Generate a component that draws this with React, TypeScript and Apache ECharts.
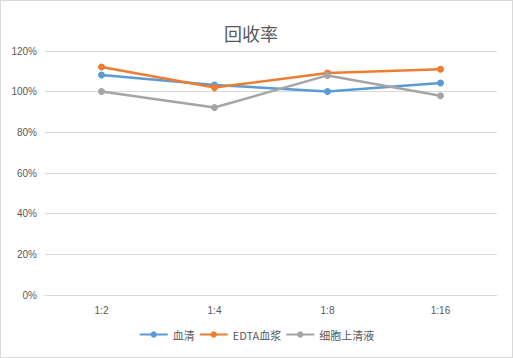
import React, { useEffect, useRef } from "react";
import * as echarts from "echarts";

const categories = ["1:2", "1:4", "1:8", "1:16"];
const seriesNames = ["血清", "EDTA血浆", "细胞上清液"];
const serum = [108.2, 103.3, 100.1, 104.3];
const edta = [112.1, 102.0, 109.2, 111.0];
const supernatant = [100.1, 92.2, 108.0, 98.0];
const colors = ["#5b9bd5", "#ed7d31", "#a5a5a5"];
const titleText = "回收率";

export default function App() {
  const ref = useRef<HTMLDivElement>(null);
  useEffect(() => {
    const chart = echarts.init(ref.current!, null, { renderer: "svg" });
    const mk = (name: string, data: number[], color: string) => ({
      name,
      type: "line",
      data,
      symbol: "circle",
      symbolSize: 7,
      lineStyle: { width: 2.5, color },
      itemStyle: { color },
    });
    chart.setOption({
      animation: false,
      title: {
        text: titleText,
        left: 218,
        top: 18,
        textStyle: {
          fontSize: 18,
          fontWeight: "normal",
          color: "#595959",
          fontFamily: "Noto Sans CJK SC",
        },
      },
      legend: {
        bottom: 12,
        left: "center",
        itemWidth: 28,
        itemHeight: 8,
        itemGap: 4,
        textStyle: { fontSize: 11, color: "#595959", fontFamily: "Noto Sans CJK SC" },
        data: seriesNames,
      },
      grid: { left: 44, right: 15, top: 50, bottom: 62, containLabel: false },
      xAxis: {
        type: "category",
        data: categories,
        boundaryGap: true,
        axisLine: { lineStyle: { color: "#d9d9d9" } },
        axisTick: { show: false },
        axisLabel: { color: "#595959", fontSize: 10, margin: 10, fontFamily: "Liberation Sans" },
      },
      yAxis: {
        type: "value",
        min: 0,
        max: 120,
        interval: 20,
        axisLine: { show: false },
        axisTick: { show: false },
        axisLabel: {
          formatter: "{value}%",
          color: "#595959",
          fontSize: 10,
          margin: 8,
          fontFamily: "Liberation Sans",
        },
        splitLine: { lineStyle: { color: "#d9d9d9" } },
      },
      series: [
        mk(seriesNames[0], serum, colors[0]),
        mk(seriesNames[1], edta, colors[1]),
        mk(seriesNames[2], supernatant, colors[2]),
      ],
    });
    return () => chart.dispose();
  }, []);
  return (
    <div
      style={{
        position: "absolute",
        left: 0,
        top: 0,
        width: 513,
        height: 358,
        boxSizing: "border-box",
        border: "1px solid #d9d9d9",
        background: "#fff",
      }}
    >
      <div ref={ref} style={{ width: 511, height: 356 }} />
    </div>
  );
}
